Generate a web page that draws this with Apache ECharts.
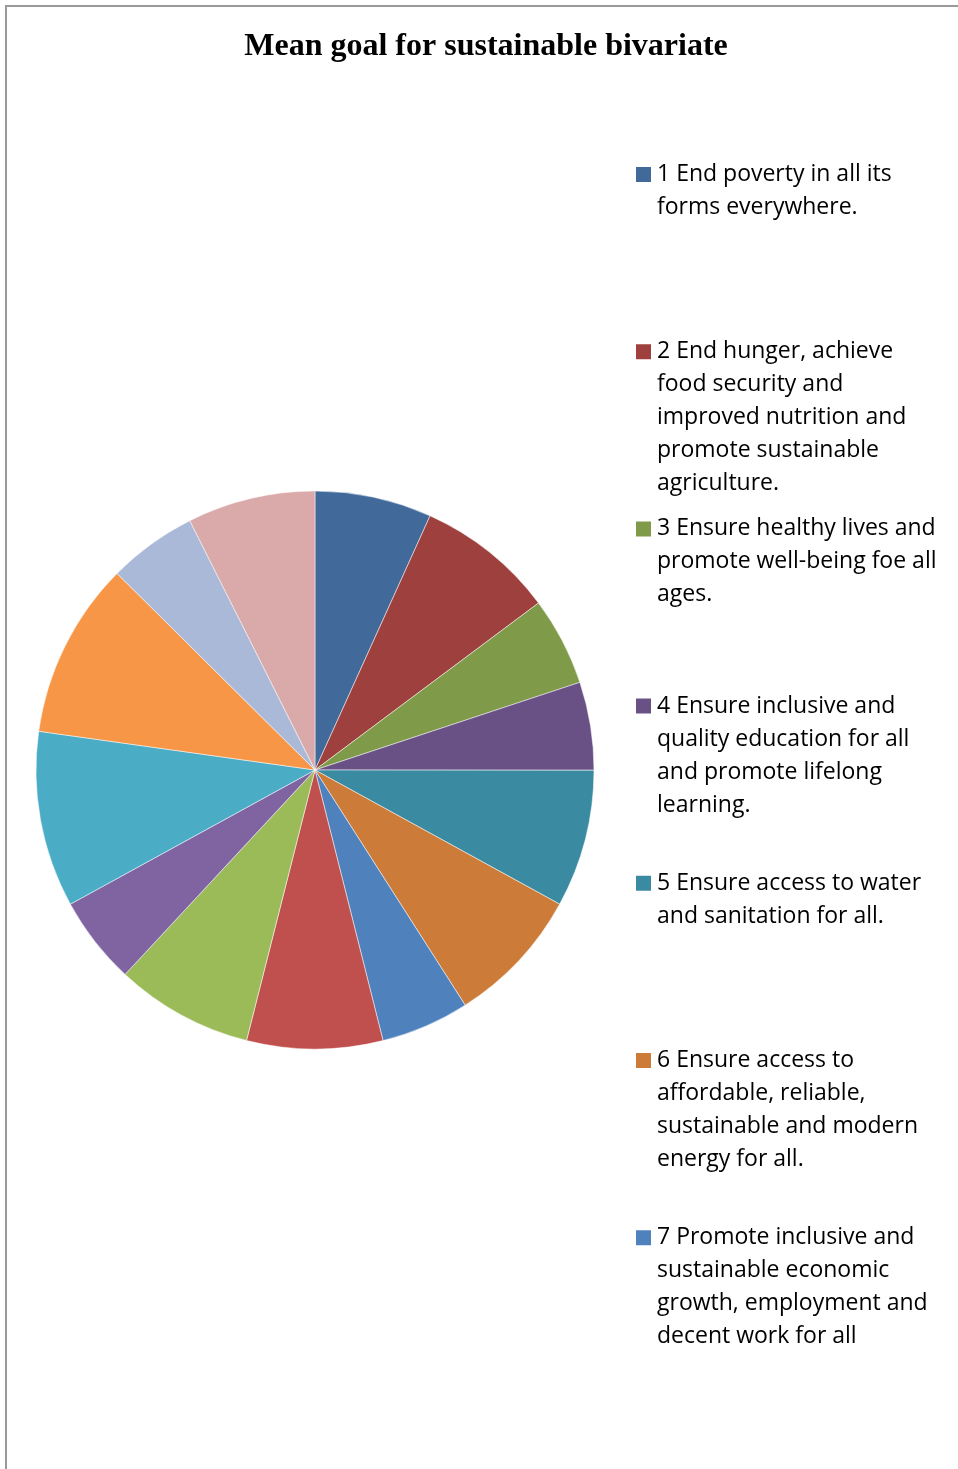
<!DOCTYPE html>
<html>
<head>
<meta charset="utf-8">
<title>Mean goal for sustainable bivariate</title>
<script src="https://cdn.jsdelivr.net/npm/echarts@6/dist/echarts.min.js"></script>
<style>
    html, body { margin: 0; padding: 0; background: #fff; }
    #chart { width: 958px; height: 1469px; }
    .frame {
        position: absolute; left: 5px; top: 5px; width: 960px; height: 1470px;
        border-left: 2px solid #9a9a9a; border-top: 2px solid #9a9a9a;
        pointer-events: none;
    }
</style>
</head>
<body>
<div id="chart"></div>
<div class="frame"></div>
<script>
// goals, in the order the slices run clockwise from 12 o'clock
const goals = [
    '1 End poverty in all its forms everywhere.',
    '2 End hunger, achieve food security and improved nutrition and promote sustainable agriculture.',
    '3 Ensure healthy lives and promote well-being foe all ages.',
    '4 Ensure inclusive and quality education for all and promote lifelong learning.',
    '5 Ensure access to water and sanitation for all.',
    '6 Ensure access to affordable, reliable, sustainable and modern energy for all.',
    '7 Promote inclusive and sustainable economic growth, employment and decent work for all',
    '8 Build resilient infrastructure, promote inclusive and sustainable industrialization and foster innovation.',
    '9 Reduce inequality within and among countries.',
    '10 Make cities and human settlements inclusive, safe, resilient and sustainable.',
    '11 Ensure sustainable consumption and production patterns.',
    '12 Take urgent action to combat climate change and its impacts.',
    '13 Conserve and sustainably use the oceans, seas and marine resources.',
    '14 Protect, restore and promote sustainable use of terrestrial ecosystems.'
];

// mean score per goal
const means = [2.64, 3.13, 2.00, 1.99, 3.11, 3.11, 2.00, 3.07, 3.11, 1.99, 3.98, 3.99, 2.01, 2.89];

const colors = [
    '#416A9B', '#9E413E', '#7F9A48', '#695085', '#3A8BA2', '#CC7B38', '#4F81BD',
    '#C0504D', '#9BBB59', '#8064A2', '#4BACC6', '#F79646', '#AAB9D7', '#D9AAA9'
];

// only the first seven fit in the legend; wrapped as in the original
const legendLines = [
    ['1 End poverty in all its', 'forms everywhere.'],
    ['2 End hunger, achieve', 'food security and', 'improved nutrition and', 'promote sustainable', 'agriculture.'],
    ['3 Ensure healthy lives and', 'promote well-being foe all', 'ages.'],
    ['4 Ensure inclusive and', 'quality education for all', 'and promote lifelong', 'learning.'],
    ['5 Ensure access to water', 'and sanitation for all.'],
    ['6 Ensure access to', 'affordable, reliable,', 'sustainable and modern', 'energy for all.'],
    ['7 Promote inclusive and', 'sustainable economic', 'growth, employment and', 'decent work for all']
];

const chart = echarts.init(document.getElementById('chart'));

const lineH = 33;
const iconSize = 17;
// legend text is centred on its icon, so blank lines are put in front
// to keep the first line level with the square
const legends = legendLines.map((lines, i) => {
    const n = lines.length;
    const iconMid = 174.5 + i * 177.2;
    const label = '\n'.repeat(n - 1) + lines.join('\n');
    return {
        orient: 'vertical',
        left: 634,
        top: iconMid - (2 * n - 1) * lineH / 2,
        padding: 0,
        itemWidth: iconSize,
        itemHeight: iconSize,
        icon: 'rect',
        selectedMode: false,
        data: [goals[i]],
        formatter: () => label,
        textStyle: {
            fontFamily: '"Open Sans", sans-serif',
            fontSize: 23,
            color: '#000',
            lineHeight: lineH
        }
    };
});

chart.setOption({
    animation: false,
    color: colors,
    title: {
        text: 'Mean goal for sustainable bivariate',
        left: 486,
        textAlign: 'center',
        top: 31,
        padding: 0,
        textStyle: {
            fontFamily: '"Liberation Serif", "Times New Roman", serif',
            fontWeight: 'bold',
            fontSize: 32,
            color: '#000'
        }
    },
    legend: legends,
    series: [{
        type: 'pie',
        center: [315, 770],
        radius: 279,
        startAngle: 90,
        clockwise: true,
        label: { show: false },
        labelLine: { show: false },
        emphasis: { disabled: true },
        itemStyle: { borderColor: '#ffffff', borderWidth: 0.5 },
        data: goals.map((g, i) => ({ name: g, value: means[i] }))
    }]
});
</script>
</body>
</html>
